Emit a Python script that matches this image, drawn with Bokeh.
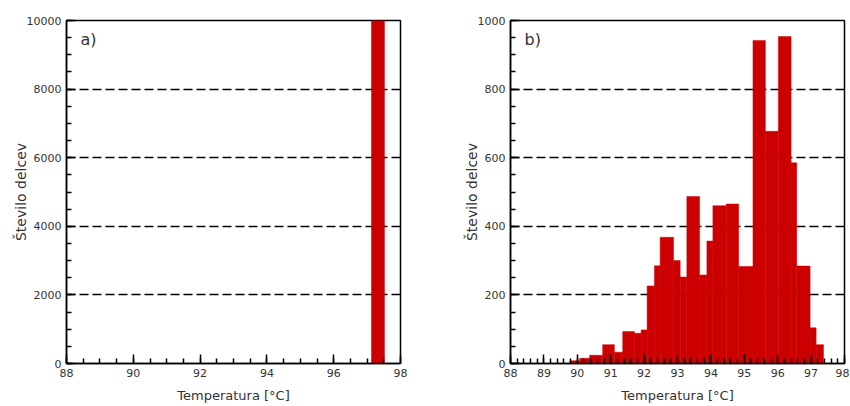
from bokeh.plotting import figure
from bokeh.layouts import row
from bokeh.models import Range1d, Label, SingleIntervalTicker
from bokeh.embed import file_html
from bokeh.resources import INLINE

# ---------------- data ----------------
x_title = "Temperatura [°C]"
y_title = "Število delcev"

# panel a) : one histogram bin
a_bin_edges = [97.13, 97.52]
a_counts = [10000]

# panel b) : histogram (bin edges read from picture)
b_bin_edges = [89.78, 90.07, 90.37, 90.76, 91.11, 91.36, 91.71, 91.91, 92.09,
               92.31, 92.48, 92.88, 93.08, 93.28, 93.66, 93.88, 94.06, 94.46,
               94.83, 95.26, 95.63, 96.02, 96.40, 96.57, 96.97, 97.15, 97.37]
b_counts = [8, 15, 24, 55, 33, 93, 88, 98, 226, 285, 368, 300, 252, 487, 258,
            357, 460, 465, 283, 942, 677, 953, 585, 284, 104, 55]

a_x_range = (88, 98)
a_y_range = (0, 10000)
b_x_range = (88, 98)
b_y_range = (0, 1000)

panel_labels = ["a)", "b)"]

BAR = "#cc0000"
TXT = "#333333"
FONT = "DejaVu Sans"


def make_panel(edges, counts, xr, yr, xint, xminor, yint, yminor, label,
               width, bl, br):
    p = figure(width=width, height=405, output_backend="svg",
               toolbar_location=None,
               x_range=Range1d(*xr), y_range=Range1d(*yr),
               min_border_left=bl, min_border_right=br,
               min_border_top=20, min_border_bottom=42)
    p.quad(left=edges[:-1], right=edges[1:], bottom=0, top=counts,
           fill_color=BAR, line_color=BAR, line_width=0.5)

    p.xaxis.ticker = SingleIntervalTicker(interval=xint, num_minor_ticks=xminor)
    p.yaxis.ticker = SingleIntervalTicker(interval=yint, num_minor_ticks=yminor)
    p.xaxis.axis_label = x_title
    p.yaxis.axis_label = y_title

    p.outline_line_color = "black"
    p.outline_line_width = 1.5
    p.outline_line_alpha = 1.0
    for ax in (p.xaxis[0], p.yaxis[0]):
        ax.major_tick_in = 9
        ax.major_tick_out = 0
        ax.minor_tick_in = 5
        ax.minor_tick_out = 0
        ax.major_tick_line_width = 1.5
        ax.minor_tick_line_width = 1.5
        ax.major_tick_line_color = "black"
        ax.minor_tick_line_color = "black"
        ax.axis_line_width = 1.5
        ax.axis_line_color = "black"
        ax.major_label_text_font = FONT
        ax.major_label_text_font_size = "11px"
        ax.major_label_text_color = TXT
        ax.major_label_standoff = 5
        ax.axis_label_text_font = FONT
        ax.axis_label_text_font_style = "normal"
        ax.axis_label_text_color = TXT
    p.xaxis.axis_label_text_font_size = "13px"
    p.yaxis.axis_label_text_font_size = "14px"
    p.xaxis.axis_label_standoff = 8
    p.yaxis.axis_label_standoff = -5

    p.xgrid.visible = False
    p.ygrid.grid_line_color = "black"
    p.ygrid.grid_line_width = 1.5
    p.ygrid.grid_line_dash = "9 4"

    p.add_layout(Label(x=xr[0] + 0.42, y=yr[1] * 0.945, text=label,
                       text_baseline="middle", text_align="left",
                       text_font=FONT, text_font_size="16px",
                       text_color=TXT))
    return p


pa = make_panel(a_bin_edges, a_counts, a_x_range, a_y_range, 2, 4, 2000, 4,
                panel_labels[0], 428, 66, 28)
pb = make_panel(b_bin_edges, b_counts, b_x_range, b_y_range, 1, 5, 200, 4,
                panel_labels[1], 421, 82, 5)

layout = row(pa, pb)
open("out.html", "w").write(file_html(layout, INLINE))
